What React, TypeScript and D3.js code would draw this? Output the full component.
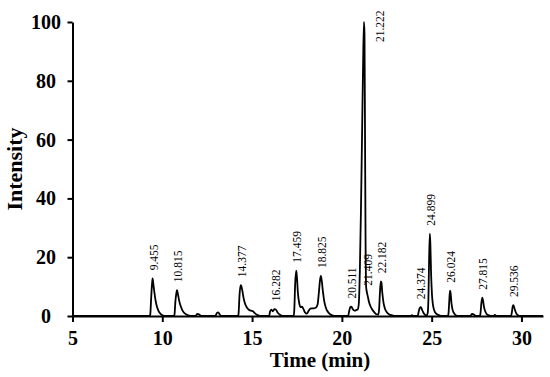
import * as d3 from "d3"
import { useEffect, useRef } from "react"

const W = 550
const H = 377
const FONT = "'Times New Roman', 'Liberation Serif', serif"

// chromatogram trace: [time (min), intensity]
const trace: [number, number][] = [
  [5, 0], [9.3, 0], [9.33, 0.5], [9.38, 6], [9.43, 11], [9.46, 12.8], [9.5, 11], [9.55, 8.5],
  [9.62, 5.5], [9.7, 3.2], [9.8, 1.6], [9.92, 0.6], [10.05, 0.1], [10.15, 0],
  [10.65, 0], [10.68, 0.5], [10.73, 5], [10.79, 8], [10.82, 8.8], [10.87, 7.5], [10.93, 5.5],
  [11.0, 3.8], [11.1, 2.2], [11.2, 1.2], [11.35, 0.5], [11.5, 0.1], [11.6, 0],
  [11.85, 0], [11.95, 0.7], [12.05, 0.6], [12.15, 0],
  [12.95, 0], [13.05, 1.1], [13.12, 1.2], [13.2, 0.5], [13.3, 0],
  [14.22, 0], [14.25, 1], [14.3, 7], [14.36, 10.5], [14.4, 10.2], [14.46, 8.5], [14.53, 6],
  [14.62, 4], [14.72, 2.8], [14.85, 2.0], [14.95, 1.8], [15.05, 1.6], [15.15, 1.0], [15.3, 0.3], [15.45, 0],
  [15.95, 0], [16.0, 1.5], [16.07, 2.2], [16.15, 1.6], [16.25, 2.3], [16.32, 2.2], [16.42, 1.2],
  [16.55, 0.4], [16.7, 0],
  [17.32, 0], [17.35, 2], [17.4, 11], [17.46, 15.4], [17.5, 13], [17.55, 8], [17.62, 4.5],
  [17.7, 3.0], [17.78, 3.2], [17.85, 2.5], [17.95, 1.2], [18.05, 0.8], [18.15, 1.8], [18.25, 2.5],
  [18.4, 2.6], [18.55, 2.8], [18.65, 4], [18.72, 8], [18.78, 12], [18.83, 13.6], [18.88, 12],
  [18.95, 8], [19.02, 5], [19.1, 3], [19.2, 1.6], [19.35, 0.6], [19.5, 0.1], [19.65, 0],
  [20.35, 0], [20.4, 1.5], [20.47, 3.0], [20.53, 3.2], [20.6, 2.4], [20.7, 1.8], [20.8, 2.0],
  [20.88, 2.2], [20.94, 4], [21.0, 15], [21.06, 35], [21.12, 60], [21.18, 85], [21.23, 100],
  [21.26, 96], [21.29, 60], [21.32, 25], [21.35, 10], [21.38, 8.5], [21.41, 7.6], [21.45, 6.5],
  [21.5, 5], [21.58, 3.5], [21.68, 2.3], [21.8, 1.3], [21.92, 0.6], [22.02, 0.5], [22.07, 2],
  [22.12, 8], [22.17, 11.8], [22.2, 11.5], [22.25, 8], [22.32, 4.5], [22.4, 2.5], [22.5, 1.3],
  [22.62, 0.6], [22.8, 0.2], [23.0, 0],
  [23.85, 0], [23.9, 0.3], [23.95, 0],
  [24.22, 0], [24.28, 1.5], [24.34, 2.8], [24.4, 3.0], [24.46, 2.2], [24.55, 1.0], [24.65, 0.3],
  [24.72, 0.2], [24.78, 1], [24.82, 6], [24.86, 20], [24.9, 28], [24.93, 24], [24.97, 14],
  [25.02, 7], [25.08, 3.5], [25.15, 1.8], [25.25, 0.8], [25.4, 0.3], [25.55, 0],
  [25.9, 0], [25.94, 1], [25.98, 5], [26.02, 8.6], [26.06, 7.5], [26.1, 4.5], [26.15, 2.5],
  [26.22, 1.2], [26.32, 0.4], [26.45, 0],
  [27.15, 0], [27.25, 0.7], [27.35, 0.5], [27.45, 0],
  [27.68, 0], [27.72, 1], [27.77, 4.5], [27.82, 6.2], [27.86, 5.3], [27.91, 3.2], [27.97, 1.8],
  [28.05, 0.8], [28.15, 0.3], [28.3, 0],
  [28.45, 0], [28.52, 0.4], [28.6, 0],
  [29.42, 0], [29.46, 1], [29.51, 3.2], [29.55, 3.7], [29.6, 2.8], [29.66, 1.6], [29.73, 0.7],
  [29.82, 0.2], [29.9, 0], [31.2, 0],
]

const peakLabels = ["9.455", "10.815", "14.377", "16.282", "17.459", "18.825", "20.511", "21.222",
  "21.409", "22.182", "24.374", "24.899", "26.024", "27.815", "29.536"]
const peakHeights = [12.8, 8.8, 10.5, 2.3, 15.4, 13.6, 3.2, 100, 7.6, 11.8, 3.0, 28, 8.6, 6.2, 3.7]

const xTicks = [5, 10, 15, 20, 25, 30]
const yTicks = [0, 20, 40, 60, 80, 100]

export default function App() {
  const svgRef = useRef<SVGSVGElement | null>(null)

  useEffect(() => {
    if (!svgRef.current) return
    const svg = d3.select(svgRef.current)
    svg.selectAll("*").remove()

    const x = d3.scaleLinear().domain([5, 31.2]).range([72.5, 543])
    const y = d3.scaleLinear().domain([0, 100]).range([316, 22])

    // trace
    const line = d3
      .line<[number, number]>()
      .x((d) => x(d[0]))
      .y((d) => y(d[1]))
      .curve(d3.curveMonotoneX)

    svg
      .append("path")
      .datum(trace)
      .attr("d", line)
      .attr("fill", "none")
      .attr("stroke", "#000")
      .attr("stroke-width", 1.8)
      .attr("stroke-linejoin", "round")

    // x axis
    const xAxis = svg
      .append("g")
      .attr("transform", `translate(0,${y(0)})`)
      .call(d3.axisBottom(x).tickValues(xTicks).tickSize(6).tickSizeOuter(0).tickPadding(9))
    xAxis.select(".domain").attr("stroke-width", 2)
    xAxis.selectAll(".tick line").attr("stroke-width", 2)
    xAxis
      .selectAll("text")
      .style("font-family", FONT)
      .style("font-size", "20px")
      .style("font-weight", "bold")
      .attr("fill", "#000")

    // y axis
    const yAxis = svg
      .append("g")
      .attr("transform", `translate(${x(5)},0)`)
      .call(d3.axisLeft(y).tickValues(yTicks).tickSize(5).tickSizeOuter(0))
    yAxis.select(".domain").attr("stroke-width", 2)
    yAxis.selectAll(".tick line").attr("stroke-width", 2)
    yAxis
      .selectAll("text")
      .attr("x", 46 - x(5))
      .attr("text-anchor", "middle")
      .style("font-family", FONT)
      .style("font-size", "20px")
      .style("font-weight", "bold")
      .attr("fill", "#000")

    // axis titles
    svg
      .append("text")
      .attr("x", 320)
      .attr("y", 367)
      .attr("text-anchor", "middle")
      .style("font-family", FONT)
      .style("font-size", "21px")
      .style("font-weight", "bold")
      .text("Time (min)")

    svg
      .append("text")
      .attr("transform", `translate(22,${(y(0) + y(100)) / 2}) rotate(-90)`)
      .attr("text-anchor", "middle")
      .style("font-family", FONT)
      .style("font-size", "22px")
      .style("font-weight", "bold")
      .text("Intensity")

    // peak labels
    peakLabels.forEach((lab, i) => {
      const t = +lab
      const h = peakHeights[i]
      let lx = x(t) + 5
      let ly = y(h) - 8
      if (h > 90) {
        lx = x(t) + 20
        ly = y(h) + 20
      }
      svg
        .append("text")
        .attr("transform", `translate(${lx},${ly}) rotate(-90)`)
        .attr("text-anchor", "start")
        .style("font-family", FONT)
        .style("font-size", "11.5px")
        .attr("fill", "#000")
        .text(lab)
    })
  }, [])

  return (
    <svg
      ref={svgRef}
      width={W}
      height={H}
      style={{ position: "absolute", left: 0, top: 0, background: "#fff" }}
      xmlns="http://www.w3.org/2000/svg"
    />
  )
}
